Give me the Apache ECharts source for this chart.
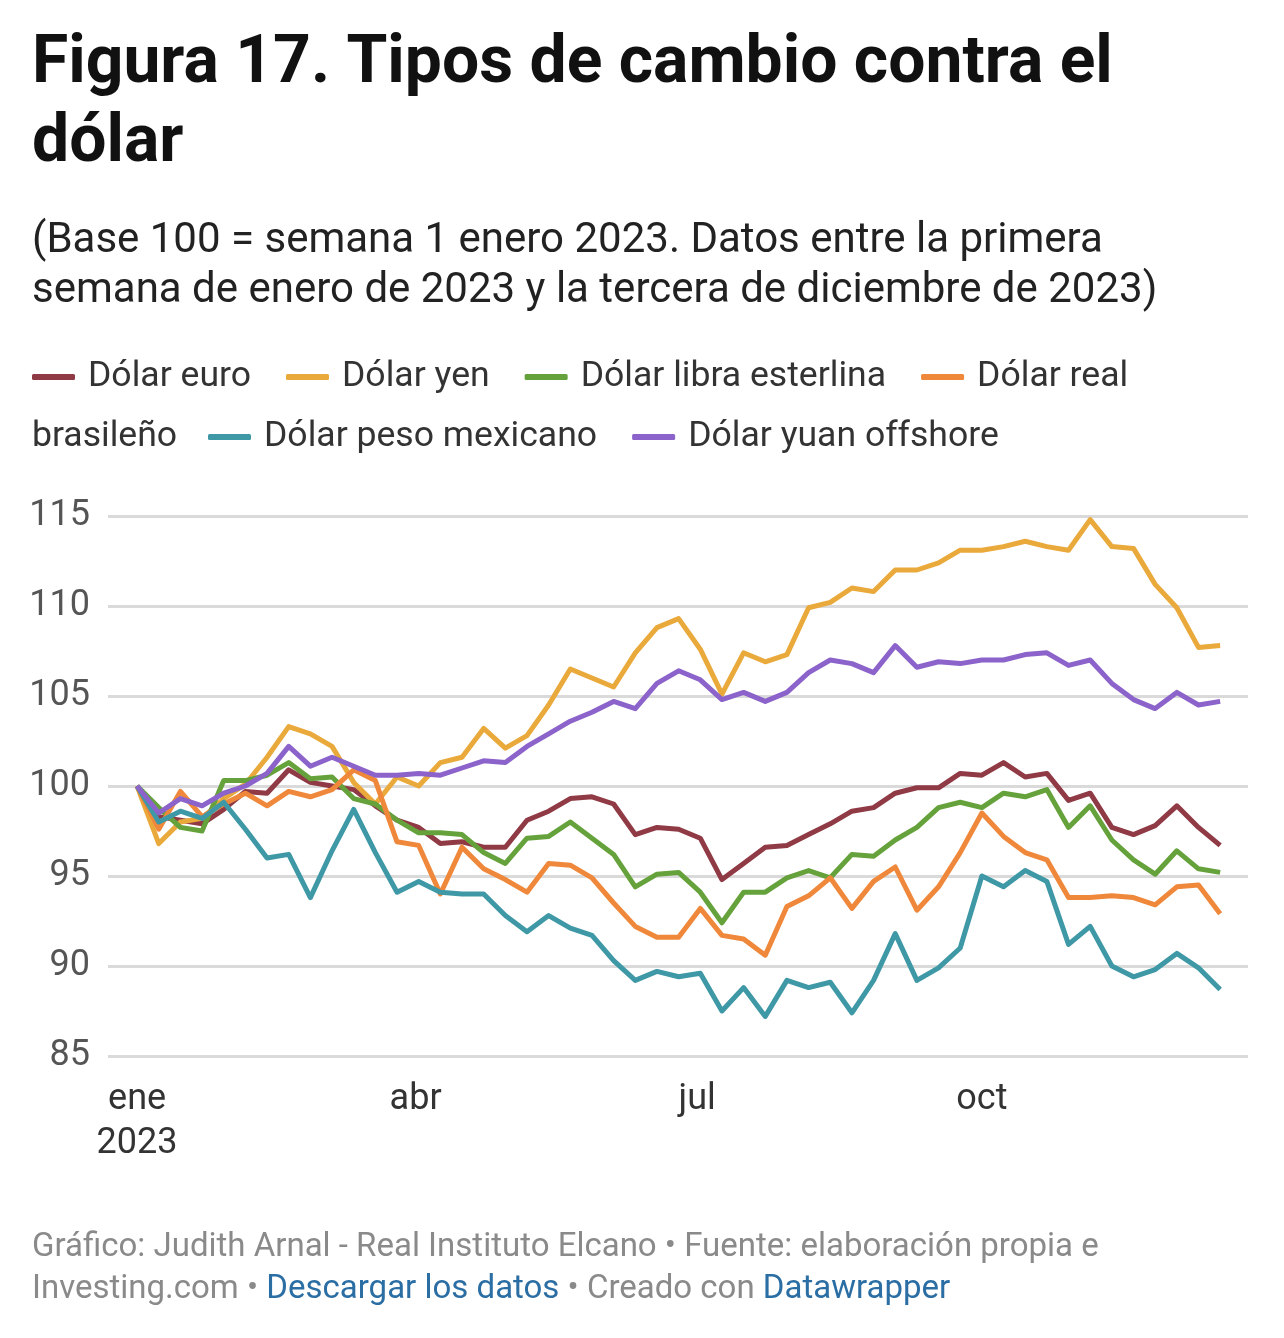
<!DOCTYPE html>
<html>
<head>
<meta charset="utf-8">
<script src="https://cdn.jsdelivr.net/npm/echarts@6/dist/echarts.min.js"></script>
<style>
html,body{margin:0;padding:0;background:#fff;}
#chart{width:1284px;height:1338px;}
</style>
</head>
<body>
<div id="chart"></div>
<script>
const weeks = ['2023-01-01','2023-01-08','2023-01-15','2023-01-22','2023-01-29',
  '2023-02-05','2023-02-12','2023-02-19','2023-02-26',
  '2023-03-05','2023-03-12','2023-03-19','2023-03-26',
  '2023-04-02','2023-04-09','2023-04-16','2023-04-23','2023-04-30',
  '2023-05-07','2023-05-14','2023-05-21','2023-05-28',
  '2023-06-04','2023-06-11','2023-06-18','2023-06-25',
  '2023-07-02','2023-07-09','2023-07-16','2023-07-23','2023-07-30',
  '2023-08-06','2023-08-13','2023-08-20','2023-08-27',
  '2023-09-03','2023-09-10','2023-09-17','2023-09-24',
  '2023-10-01','2023-10-08','2023-10-15','2023-10-22','2023-10-29',
  '2023-11-05','2023-11-12','2023-11-19','2023-11-26',
  '2023-12-03','2023-12-10','2023-12-17'];

const euro = [100, 98.3, 98.1, 97.9, 98.7, 99.7, 99.6, 100.9, 100.2, 100.0,
  99.8, 98.9, 98.1, 97.7, 96.8, 96.9, 96.6, 96.6, 98.1, 98.6,
  99.3, 99.4, 99.0, 97.3, 97.7, 97.6, 97.1, 94.8, 95.7, 96.6,
  96.7, 97.3, 97.9, 98.6, 98.8, 99.6, 99.9, 99.9, 100.7, 100.6,
  101.3, 100.5, 100.7, 99.2, 99.6, 97.7, 97.3, 97.8, 98.9, 97.7, 96.7];
const yen = [100, 96.8, 98.0, 98.2, 99.3, 100.1, 101.6, 103.3, 102.9, 102.2,
  100.2, 99.0, 100.5, 100.0, 101.3, 101.6, 103.2, 102.1, 102.8, 104.5,
  106.5, 106.0, 105.5, 107.4, 108.8, 109.3, 107.6, 105.1, 107.4, 106.9,
  107.3, 109.9, 110.2, 111.0, 110.8, 112.0, 112.0, 112.4, 113.1, 113.1,
  113.3, 113.6, 113.3, 113.1, 114.8, 113.3, 113.2, 111.2, 109.9, 107.7, 107.8];
const libra = [100, 98.8, 97.7, 97.5, 100.3, 100.3, 100.6, 101.3, 100.4, 100.5,
  99.3, 99.0, 98.1, 97.4, 97.4, 97.3, 96.3, 95.7, 97.1, 97.2,
  98.0, 97.1, 96.2, 94.4, 95.1, 95.2, 94.1, 92.4, 94.1, 94.1,
  94.9, 95.3, 94.9, 96.2, 96.1, 97.0, 97.7, 98.8, 99.1, 98.8,
  99.6, 99.4, 99.8, 97.7, 98.9, 97.0, 95.9, 95.1, 96.4, 95.4, 95.2];
const real = [100, 97.6, 99.7, 98.3, 99.0, 99.6, 98.9, 99.7, 99.4, 99.8,
  100.9, 100.3, 96.9, 96.7, 94.0, 96.6, 95.4, 94.8, 94.1, 95.7,
  95.6, 94.9, 93.5, 92.2, 91.6, 91.6, 93.2, 91.7, 91.5, 90.6,
  93.3, 93.9, 94.9, 93.2, 94.7, 95.5, 93.1, 94.4, 96.3, 98.5,
  97.2, 96.3, 95.9, 93.8, 93.8, 93.9, 93.8, 93.4, 94.4, 94.5, 92.9];
const peso = [100, 98.0, 98.6, 98.2, 99.1, 97.6, 96.0, 96.2, 93.8, 96.4,
  98.7, 96.3, 94.1, 94.7, 94.1, 94.0, 94.0, 92.8, 91.9, 92.8,
  92.1, 91.7, 90.3, 89.2, 89.7, 89.4, 89.6, 87.5, 88.8, 87.2,
  89.2, 88.8, 89.1, 87.4, 89.2, 91.8, 89.2, 89.9, 91.0, 95.0,
  94.4, 95.3, 94.7, 91.2, 92.2, 90.0, 89.4, 89.8, 90.7, 89.9, 88.7];
const yuan = [100, 98.5, 99.3, 98.9, 99.6, 100.0, 100.7, 102.2, 101.1, 101.6,
  101.1, 100.6, 100.6, 100.7, 100.6, 101.0, 101.4, 101.3, 102.2, 102.9,
  103.6, 104.1, 104.7, 104.3, 105.7, 106.4, 105.9, 104.8, 105.2, 104.7,
  105.2, 106.3, 107.0, 106.8, 106.3, 107.8, 106.6, 106.9, 106.8, 107.0,
  107.0, 107.3, 107.4, 106.7, 107.0, 105.7, 104.8, 104.3, 105.2, 104.5, 104.7];

const seriesNames = ['Dólar euro','Dólar yen','Dólar libra esterlina','Dólar real brasileño','Dólar peso mexicano','Dólar yuan offshore'];
const seriesValues = [euro, yen, libra, real, peso, yuan];
const colors = ['#8f3a45','#eaa93b','#66a23c','#ef883a','#3e98a5','#8b63ca'];

const xTickDates = ['2023-01-01','2023-04-01','2023-07-01','2023-10-01'];
const xTickLabels = ['ene\n2023','abr','jul','oct'];
const yTicks = [85, 90, 95, 100, 105, 110, 115];

const t0 = Date.UTC(2023,0,1);
function dayOf(s){ const p = s.split('-'); return (Date.UTC(+p[0], +p[1]-1, +p[2]) - t0) / 86400000; }
const xTickDays = xTickDates.map(dayOf);

const FONT = 'Roboto, "Noto Sans", sans-serif';
const chart = echarts.init(document.getElementById('chart'));

const option = {
  animation: false,
  backgroundColor: '#ffffff',
  textStyle: { fontFamily: FONT },
  grid: { left: 108, right: 36, top: 516, bottom: 282, containLabel: false },
  xAxis: {
    type: 'value',
    min: -9.4, max: 359,
    axisLine: { show: false },
    axisTick: { show: false },
    splitLine: { show: false },
    axisLabel: {
      customValues: xTickDays,
      formatter: function (v) { const i = xTickDays.indexOf(v); return i >= 0 ? xTickLabels[i] : ''; },
      fontSize: 36, color: '#333', lineHeight: 44, margin: 22, fontFamily: FONT
    }
  },
  yAxis: {
    type: 'value',
    min: yTicks[0], max: yTicks[yTicks.length-1], interval: 5,
    axisLine: { show: false },
    axisTick: { show: false },
    axisLabel: { fontSize: 36, color: '#555', margin: 18, fontFamily: FONT },
    splitLine: { lineStyle: { color: '#dadada', width: 3 } }
  },
  legend: [
    {
      data: seriesNames.slice(0,4),
      left: 32, top: 356, padding: 0,
      icon: 'roundRect', itemWidth: 43, itemHeight: 6, itemGap: 35,
      formatter: function (n) { return n === 'Dólar real brasileño' ? 'Dólar real' : n; },
      textStyle: { fontSize: 35.6, color: '#333', padding: [0,0,0,8], fontFamily: FONT, lineHeight: 42 }
    },
    {
      data: seriesNames.slice(4),
      left: 208, top: 416, padding: 0,
      icon: 'roundRect', itemWidth: 43, itemHeight: 6, itemGap: 35,
      textStyle: { fontSize: 35.6, color: '#333', padding: [0,0,0,8], fontFamily: FONT, lineHeight: 42 }
    }
  ],
  graphic: [
    { type: 'text', left: 32, top: 26, style: {
      text: 'Figura 17. Tipos de cambio contra el\ndólar',
      fontSize: 66, fontWeight: 'bold', fontFamily: FONT, fill: '#111', lineHeight: 79 } },
    { type: 'text', left: 32, top: 216, style: {
      text: '(Base 100 = semana 1 enero 2023. Datos entre la primera\nsemana de enero de 2023 y la tercera de diciembre de 2023)',
      fontSize: 42, fontFamily: FONT, fill: '#222', lineHeight: 50 } },
    { type: 'text', left: 32, top: 416, style: {
      text: 'brasileño', fontSize: 35.6, fontFamily: FONT, fill: '#333', lineHeight: 42 } },
    { type: 'text', left: 32, top: 1227, style: {
      text: '{g|Gráfico: Judith Arnal - Real Instituto Elcano • Fuente: elaboración propia e}\n{g|Investing.com • }{l|Descargar los datos}{g| • Creado con }{l|Datawrapper}',
      fontSize: 33, fontFamily: FONT, lineHeight: 42,
      rich: {
        g: { fontSize: 33, fontFamily: FONT, fill: '#8a8a8a', lineHeight: 42 },
        l: { fontSize: 33, fontFamily: FONT, fill: '#2b6ea4', lineHeight: 42 }
      } } }
  ],
  series: seriesNames.map(function (name, k) {
    return {
      name: name, type: 'line', showSymbol: false, symbol: 'none',
      color: colors[k],
      lineStyle: { width: 5, color: colors[k], join: 'round' },
      emphasis: { disabled: true },
      data: weeks.map(function (d, i) { return [dayOf(d), seriesValues[k][i]]; })
    };
  })
};
chart.setOption(option);
</script>
</body>
</html>
